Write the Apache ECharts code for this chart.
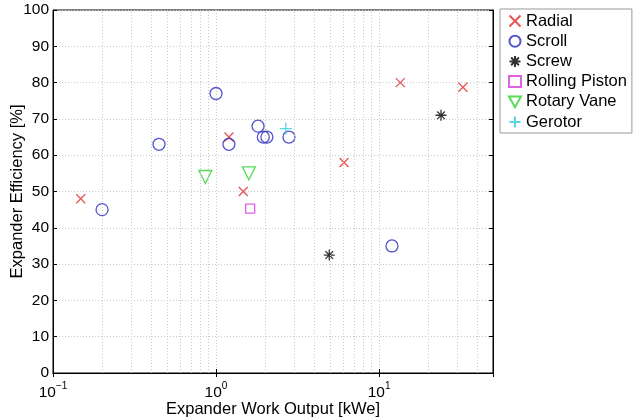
<!DOCTYPE html>
<html>
<head>
<meta charset="utf-8">
<script src="https://cdn.jsdelivr.net/npm/echarts@6/dist/echarts.min.js"></script>
<style>
html, body { margin: 0; padding: 0; background: #fff; }
#cht { width: 642px; height: 420px; }
</style>
</head>
<body>
<div id="cht"></div>
<script>
// values: [work output kWe, efficiency %]
var radial = [[0.148, 48], [1.2, 65], [1.47, 50], [6.1, 58], [13.5, 80], [32.7, 78.7]];
var scroll = [[0.2, 45], [0.447, 63], [1.0, 77], [1.2, 63], [1.81, 68], [1.95, 65], [2.05, 65], [2.8, 65], [12, 35]];
var screw = [[4.95, 32.5], [24, 71]];
var rollingPiston = [[1.62, 45.3]];
var rotaryVane = [[0.86, 54], [1.59, 55]];
var gerotor = [[2.68, 67.3]];

var minorGridX = [0.2, 0.3, 0.4, 0.5, 0.6, 0.7, 0.8, 0.9, 2, 3, 4, 5, 6, 7, 8, 9, 20, 30, 40];
var yTicks = [0, 10, 20, 30, 40, 50, 60, 70, 80, 90, 100];

var font = 'Liberation Sans';
var gridLine = { show: true, lineStyle: { color: '#c8c8c8', type: [1, 2], width: 1 } };
var tick = { show: true, inside: true, length: 4, lineStyle: { color: '#000' } };

function series(name, data, symbol, size, color) {
    return {
        name: name,
        type: 'scatter',
        data: data,
        symbol: symbol,
        symbolSize: size,
        itemStyle: { color: 'rgba(0,0,0,0)', borderColor: color, borderWidth: 1.3 },
        emphasis: { disabled: true },
        z: 3
    };
}

var config = {
    animation: false,
    backgroundColor: '#fff',
    textStyle: { fontFamily: font },
    grid: {
        left: 53, right: 149, top: 10, bottom: 47,
        outerBoundsMode: 'none',
        containLabel: false,
        show: true, borderColor: '#000', borderWidth: 1
    },
    legend: {
        orient: 'vertical',
        left: 500, top: 9,
        padding: [3, 5, 2, 8],
        itemGap: 2.2,
        itemWidth: 12, itemHeight: 11,
        borderColor: '#999', borderWidth: 1,
        textStyle: { fontSize: 16.5, lineHeight: 18, color: '#000', fontFamily: font },
        data: ['Radial', 'Scroll', 'Screw', 'Rolling Piston', 'Rotary Vane', 'Gerotor']
    },
    xAxis: [{
        type: 'log',
        logBase: 10,
        min: 0.1, max: 50,
        name: 'Expander Work Output [kWe]',
        nameLocation: 'middle',
        nameMoveOverlap: false,
        nameGap: 28,
        nameTextStyle: { fontSize: 16.5, color: '#000', fontFamily: font },
        axisLine: { show: true, lineStyle: { color: '#000' } },
        axisTick: tick,
        splitLine: gridLine,
        axisLabel: {
            color: '#000', margin: 8,
            formatter: function (v) {
                var e = Math.round(Math.log10(v));
                if (Math.abs(v - Math.pow(10, e)) > 1e-9 * v) return '';
                return '{b|10}{s|' + (e < 0 ? '\u2212' + (-e) : e) + '}';
            },
            rich: {
                b: { fontSize: 15.5, color: '#000', fontFamily: font },
                s: { fontSize: 10, color: '#000', fontFamily: font, padding: [0, 0, 13, 0] }
            }
        }
    }, {
        type: 'log',
        logBase: 10,
        min: 0.1, max: 50,
        position: 'top',
        axisLine: { show: true, lineStyle: { color: '#000' } },
        axisTick: tick,
        axisLabel: { show: false },
        splitLine: { show: false }
    }],
    yAxis: [{
        type: 'value',
        min: 0, max: 100, interval: 10,
        name: 'Expander Efficiency [%]',
        nameLocation: 'middle',
        nameMoveOverlap: false,
        nameGap: 27,
        nameTextStyle: { fontSize: 16.5, color: '#000', fontFamily: font },
        axisLine: { show: true, lineStyle: { color: '#000' } },
        axisTick: tick,
        splitLine: gridLine,
        axisLabel: {
            color: '#000', fontSize: 15.5, margin: 4, fontFamily: font,
            customValues: yTicks
        }
    }, {
        type: 'value',
        min: 0, max: 100, interval: 10,
        position: 'right',
        axisLine: { show: true, lineStyle: { color: '#000' } },
        axisTick: tick,
        axisLabel: { show: false },
        splitLine: { show: false }
    }],
    series: [
        {
            name: '_grid',
            type: 'scatter',
            data: [],
            silent: true,
            z: 1,
            markLine: {
                silent: true,
                symbol: 'none',
                label: { show: false },
                lineStyle: { color: '#c8c8c8', type: [1, 2], width: 1 },
                data: minorGridX.map(function (v) { return { xAxis: v }; })
            }
        },
        series('Radial', radial, 'path://M0,0L10,10M10,0L0,10', 9, '#e02a2a'),
        series('Scroll', scroll, 'circle', 12, '#2b2bc0'),
        series('Screw', screw, 'path://M5,0L5,10M0,5L10,5M1.5,1.5L8.5,8.5M8.5,1.5L1.5,8.5', 11, '#000'),
        series('Rolling Piston', rollingPiston, 'rect', 9, '#d83ad8'),
        series('Rotary Vane', rotaryVane, 'path://M0,0L10,0L5,9Z', 13, '#2fd12f'),
        series('Gerotor', gerotor, 'path://M5,0L5,10M0,5L10,5', 12, '#2ccde0')
    ]
};

window.onload = function () {
    var myChart = echarts.init(document.getElementById('cht'));
    myChart.setOption(config);
};
</script>
</body>
</html>
